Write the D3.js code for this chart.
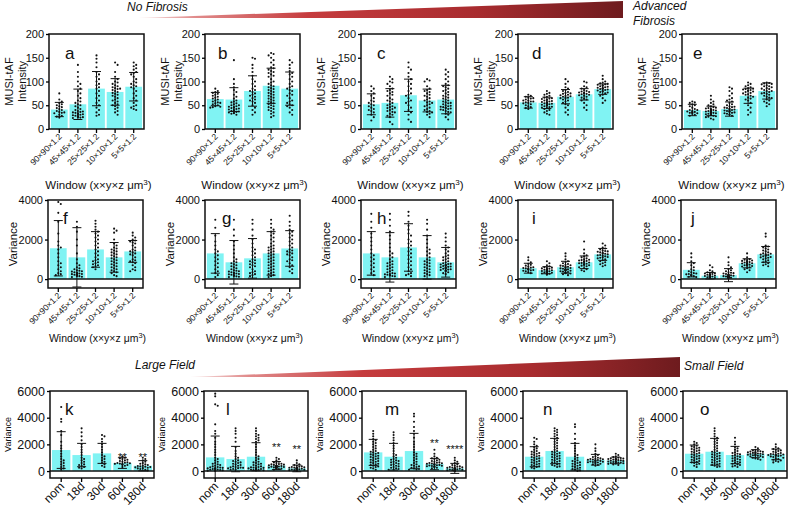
<!DOCTYPE html>
<html>
<head>
<meta charset="utf-8">
<script src="https://cdn.jsdelivr.net/npm/d3@7"></script>
<style>
  body { margin: 0; background: #fff; }
  svg text { font-family: Arial, "Liberation Sans", sans-serif; fill: #111; }
</style>
</head>
<body>
<svg id="fig" width="793" height="511"></svg>
<script>
// category labels
const windowLabels = ["90×90×1.2", "45×45×1.2", "25×25×1.2", "10×10×1.2", "5×5×1.2"];
const timeLabels = ["nom", "18d", "30d", "60d", "180d"];

// ---- row 1: MUSI-tAF intensity (a-e) ----
const meanA = [41, 52, 85, 78, 89];
const sdA = [15, 32, 36, 28, 30];
const ptsA = [
  [75, 62, 58, 55, 52, 50, 48, 46, 44, 42, 40, 38, 36, 35, 34, 33, 30, 28, 26, 24],
  [135, 120, 110, 100, 95, 90, 85, 80, 75, 70, 65, 60, 58, 55, 52, 50, 48, 45, 42, 40, 38, 37, 36, 35, 34, 33, 32, 31, 30, 30, 29, 28, 27, 26, 25, 25, 24, 23],
  [155, 148, 140, 130, 120, 115, 110, 105, 100, 95, 92, 88, 85, 80, 75, 70, 65, 60, 55, 50, 45, 40, 35, 30, 28],
  [140, 135, 120, 110, 105, 100, 98, 95, 92, 90, 88, 86, 85, 84, 82, 80, 78, 76, 74, 72, 70, 68, 65, 62, 60, 58, 55, 52, 50, 48, 45, 42, 38, 35, 30],
  [140, 135, 132, 128, 125, 120, 118, 115, 110, 105, 100, 98, 95, 92, 90, 88, 85, 80, 75, 70, 65, 60, 55, 50, 48, 45, 42, 40]
];
const meanB = [63, 62, 80, 91, 85];
const sdB = [14, 25, 32, 37, 35];
const ptsB = [
  [85, 80, 78, 76, 74, 72, 70, 68, 66, 64, 62, 60, 58, 56, 55, 54, 52, 50, 48, 47, 46, 45],
  [145, 105, 95, 88, 82, 78, 72, 68, 64, 60, 58, 56, 54, 52, 50, 50, 48, 47, 46, 45, 44, 43, 42, 41, 40, 39, 38, 37, 36, 35, 34, 33, 32, 30],
  [150, 148, 135, 128, 120, 112, 105, 100, 95, 90, 85, 82, 80, 78, 75, 72, 70, 68, 65, 62, 60, 58, 55, 50, 45, 40, 35, 30],
  [160, 158, 155, 150, 145, 140, 135, 130, 128, 125, 122, 120, 118, 115, 112, 110, 105, 100, 98, 95, 92, 90, 88, 86, 84, 82, 80, 78, 76, 74, 72, 70, 68, 66, 64, 62, 60, 58, 56, 54, 52, 50, 48, 46, 44, 42, 40, 38, 35, 32, 28, 25],
  [145, 140, 135, 128, 122, 118, 115, 110, 105, 100, 95, 90, 88, 85, 82, 80, 75, 72, 70, 65, 60, 58, 55, 52, 50, 48, 45, 40, 35, 30]
];
const meanC = [52, 55, 71, 60, 62];
const sdC = [22, 30, 34, 24, 30];
const ptsC = [
  [90, 85, 80, 75, 70, 65, 60, 58, 55, 52, 50, 48, 45, 42, 40, 38, 35, 30, 25, 18],
  [110, 105, 100, 98, 95, 90, 85, 82, 80, 78, 75, 72, 70, 65, 62, 60, 58, 55, 52, 50, 48, 46, 45, 44, 42, 40, 38, 36, 35, 32, 30, 28, 25, 15, 10],
  [140, 130, 125, 118, 110, 105, 100, 95, 90, 85, 80, 75, 72, 70, 65, 60, 58, 55, 50, 45, 40, 35, 30, 20, 15],
  [105, 102, 100, 90, 85, 82, 80, 78, 75, 72, 70, 68, 65, 62, 60, 58, 56, 55, 52, 50, 48, 45, 42, 40, 38, 36, 35, 32, 30, 25],
  [125, 120, 115, 110, 105, 100, 95, 92, 90, 88, 85, 82, 80, 78, 75, 72, 70, 68, 66, 64, 62, 60, 58, 56, 55, 54, 52, 50, 49, 48, 47, 46, 45, 44, 43, 42, 41, 40, 38, 36, 35, 32, 30, 25, 20]
];
const meanD = [56, 55, 68, 73, 84];
const sdD = [12, 12, 15, 12, 11];
const ptsD = [
  [72, 70, 68, 66, 65, 64, 62, 60, 60, 58, 58, 56, 55, 54, 52, 50, 48, 46, 44, 42],
  [80, 76, 74, 72, 70, 68, 66, 65, 64, 63, 62, 61, 60, 59, 58, 57, 56, 56, 55, 55, 54, 54, 53, 52, 52, 51, 50, 50, 49, 48, 47, 46, 45, 44, 42, 40, 38, 35, 32, 30],
  [105, 100, 95, 88, 85, 82, 80, 78, 76, 75, 74, 72, 71, 70, 69, 68, 67, 66, 65, 64, 62, 60, 58, 55, 52, 50, 45, 40, 35, 30],
  [100, 98, 90, 88, 85, 82, 80, 79, 78, 77, 76, 75, 74, 73, 72, 71, 70, 68, 66, 64, 62, 60, 55, 50, 45, 40],
  [112, 105, 100, 98, 96, 95, 94, 93, 92, 91, 90, 89, 88, 87, 86, 85, 85, 84, 83, 82, 81, 80, 79, 78, 77, 75, 72, 70, 65, 60, 55]
];
const meanE = [40, 38, 42, 70, 80];
const sdE = [12, 10, 15, 16, 17];
const ptsE = [
  [58, 56, 55, 52, 50, 48, 45, 42, 40, 40, 38, 37, 36, 35, 35, 34, 33, 32, 30, 28],
  [70, 62, 58, 55, 52, 50, 48, 46, 45, 44, 43, 42, 41, 40, 40, 39, 39, 38, 38, 37, 37, 36, 36, 35, 35, 34, 34, 33, 32, 32, 31, 30, 30, 29, 28, 27, 26, 25, 22, 20],
  [88, 85, 80, 75, 70, 65, 62, 60, 58, 55, 52, 50, 48, 47, 46, 45, 44, 43, 42, 41, 40, 40, 39, 38, 38, 37, 36, 35, 34, 33, 32, 31, 30, 28],
  [98, 95, 92, 90, 88, 86, 85, 84, 83, 82, 81, 80, 79, 78, 76, 75, 73, 72, 70, 68, 66, 64, 62, 60, 55, 50, 45, 40, 35, 30],
  [98, 97, 96, 95, 94, 92, 90, 90, 88, 86, 85, 84, 82, 80, 80, 78, 76, 75, 74, 72, 70, 68, 66, 65, 62, 60, 58, 55, 52, 48]
];

// ---- row 2: variance (f-j) ----
const meanF = [1560, 1100, 1500, 1100, 1400];
const sdF = [1400, 1500, 900, 750, 550];
const ptsF = [
  [3900, 3800, 3350, 2900, 2300, 1900, 1700, 1600, 1500, 1300, 1100, 900, 800, 700, 600, 500, 400, 300, 250, 200],
  [2900, 2650, 2400, 2000, 1700, 1300, 1000, 800, 700, 600, 550, 500, 450, 420, 400, 380, 350, 330, 310, 300, 280, 260, 250, 240, 230, 220, 210, 200, 190, 180, 170, 160, 150, 120, 100],
  [2950, 2800, 2650, 2500, 2400, 2300, 2200, 2100, 2000, 1900, 1800, 1700, 1600, 1500, 1400, 1300, 1200, 1100, 1000, 950, 900, 850, 800, 750, 700, 650, 600, 500],
  [2550, 2450, 2350, 2000, 1800, 1700, 1600, 1550, 1500, 1450, 1400, 1350, 1300, 1250, 1200, 1150, 1100, 1050, 1000, 950, 900, 850, 800, 750, 700, 650, 600, 550, 500, 450, 400, 350, 300, 200, 150],
  [2350, 2200, 2100, 2000, 1950, 1900, 1850, 1800, 1700, 1600, 1500, 1450, 1400, 1350, 1300, 1250, 1200, 1100, 1000, 950, 900, 850, 800, 700, 600, 500, 450, 400]
];
const meanG = [1300, 850, 1050, 1300, 1550];
const sdG = [1000, 1100, 1000, 1100, 900];
const ptsG = [
  [3000, 2600, 2200, 1900, 1700, 1500, 1400, 1300, 1200, 1100, 1000, 900, 800, 700, 600, 500, 400, 300, 200, 100],
  [3000, 2500, 2200, 1900, 1700, 1500, 1300, 1100, 1000, 900, 850, 800, 750, 700, 650, 600, 550, 500, 450, 420, 400, 380, 350, 320, 300, 280, 260, 240, 220, 200, 180, 160, 140, 120, 100],
  [3000, 2800, 2500, 2200, 2000, 1800, 1600, 1500, 1400, 1300, 1200, 1100, 1000, 950, 900, 850, 800, 750, 700, 650, 600, 500, 400, 350, 300, 250, 200, 150],
  [3000, 2800, 2600, 2500, 2400, 2300, 2200, 2100, 2000, 1900, 1800, 1700, 1650, 1600, 1550, 1500, 1450, 1400, 1350, 1300, 1250, 1200, 1150, 1100, 1050, 1000, 950, 900, 850, 800, 750, 700, 650, 600, 550, 500, 450, 400, 350, 300, 250, 200, 150, 100],
  [3200, 2900, 2700, 2500, 2400, 2300, 2200, 2100, 2000, 1900, 1800, 1700, 1600, 1500, 1450, 1400, 1350, 1300, 1250, 1200, 1100, 1000, 950, 900, 800, 700, 600, 500, 400, 300]
];
const meanH = [1300, 1100, 1600, 1100, 850];
const sdH = [1100, 1250, 1200, 1100, 750];
const ptsH = [
  [3300, 2900, 2600, 2300, 2100, 1900, 1700, 1500, 1300, 1200, 1100, 1000, 900, 800, 700, 600, 500, 400, 300, 200],
  [3300, 3000, 2700, 2400, 2200, 2000, 1800, 1600, 1400, 1300, 1200, 1100, 1000, 900, 850, 800, 750, 700, 650, 600, 550, 500, 450, 400, 350, 300, 280, 260, 240, 220, 200, 180, 160, 140, 100],
  [3400, 3200, 2900, 2700, 2500, 2300, 2200, 2000, 1900, 1800, 1700, 1600, 1500, 1400, 1300, 1200, 1100, 1000, 900, 800, 700, 600, 500, 400, 300, 250, 200, 150],
  [3000, 2800, 2500, 2200, 2000, 1800, 1600, 1500, 1400, 1300, 1200, 1100, 1000, 950, 900, 850, 800, 750, 700, 650, 600, 550, 500, 450, 400, 350, 300, 250, 200, 150],
  [2300, 2100, 1900, 1700, 1600, 1500, 1400, 1300, 1200, 1150, 1100, 1050, 1000, 950, 900, 850, 800, 780, 760, 740, 720, 700, 680, 660, 640, 620, 600, 580, 560, 540, 520, 500, 480, 460, 440, 420, 400, 350, 300, 250]
];
const meanI = [550, 450, 600, 850, 1250];
const sdI = [250, 180, 300, 320, 300];
const ptsI = [
  [1100, 950, 850, 780, 720, 680, 640, 600, 580, 560, 540, 520, 500, 480, 460, 440, 420, 400, 350, 300],
  [900, 800, 700, 650, 600, 580, 560, 540, 520, 500, 490, 480, 470, 460, 450, 440, 430, 420, 410, 400, 395, 390, 385, 380, 375, 370, 365, 360, 350, 340, 330, 320, 310, 300, 290, 280, 270, 260, 250, 220],
  [1300, 1150, 1000, 900, 850, 800, 760, 720, 700, 680, 660, 640, 620, 600, 580, 560, 540, 520, 500, 490, 480, 470, 460, 450, 440, 420, 400, 380, 360, 340, 320, 300, 280, 250, 200],
  [1900, 1500, 1300, 1200, 1150, 1100, 1050, 1000, 980, 960, 940, 920, 900, 880, 860, 840, 820, 800, 780, 760, 740, 720, 700, 680, 650, 600, 550, 500, 450, 400],
  [1800, 1700, 1600, 1550, 1500, 1450, 1420, 1400, 1380, 1350, 1320, 1300, 1280, 1250, 1220, 1200, 1180, 1150, 1120, 1100, 1080, 1050, 1000, 950, 900, 850, 800, 750, 700, 650]
];
const meanJ = [470, 170, 200, 800, 1250];
const sdJ = [360, 160, 330, 230, 400];
const ptsJ = [
  [1300, 1100, 900, 800, 700, 600, 500, 450, 400, 350, 300, 280, 260, 240, 220, 200, 180, 150, 120, 100],
  [700, 600, 450, 400, 350, 320, 300, 280, 260, 240, 230, 220, 210, 200, 190, 185, 180, 175, 170, 165, 160, 155, 150, 145, 140, 135, 130, 125, 120, 115, 110, 105, 100, 95, 90, 85, 80, 70, 60, 50],
  [1100, 850, 700, 600, 500, 450, 400, 350, 320, 300, 280, 260, 240, 220, 210, 200, 190, 180, 170, 160, 150, 140, 130, 120, 110, 100, 95, 90, 85, 80, 75, 70, 65, 60, 50],
  [1300, 1100, 1000, 980, 960, 940, 920, 900, 880, 860, 840, 820, 800, 790, 780, 770, 760, 750, 740, 730, 720, 700, 680, 660, 640, 600, 550, 500, 450, 350],
  [2300, 2150, 1700, 1650, 1600, 1550, 1500, 1450, 1400, 1350, 1300, 1280, 1260, 1240, 1220, 1200, 1180, 1150, 1120, 1100, 1080, 1050, 1000, 950, 900, 850, 800, 750, 700, 650]
];

// ---- row 3: variance over time (k-o) ----
const meanK = [1575, 1200, 1325, 600, 400];
const sdK = [1375, 875, 750, 400, 380];
const ptsK = [
  [4800, 3900, 3700, 3000, 2700, 2200, 1900, 1700, 1500, 1300, 1100, 900, 800, 700, 600, 500, 400, 300, 200, 100],
  [3200, 2900, 2600, 2300, 2000, 1800, 1600, 1400, 1200, 1000, 900, 800, 700, 600, 500, 450, 400, 300, 250, 200],
  [2700, 2600, 2400, 2200, 2000, 1800, 1600, 1400, 1200, 1100, 1000, 900, 800, 700, 600, 500, 400, 300],
  [1100, 1000, 950, 900, 850, 800, 750, 700, 650, 620, 600, 580, 560, 540, 520, 500, 480, 450, 400, 300],
  [1000, 900, 800, 700, 600, 550, 500, 450, 400, 380, 350, 320, 300, 280, 250, 220, 200, 150, 100, 50]
];
const sigK = ["", "", "", "**", "**"];
const sigAtK = [0, 0, 0, 1200, 1200];
const meanL = [1025, 900, 1075, 410, 200];
const sdL = [1600, 950, 1050, 300, 250];
const ptsL = [
  [5800, 5600, 5000, 4900, 3500, 3000, 2800, 2500, 2200, 2000, 1800, 1600, 1400, 1200, 1000, 900, 800, 700, 600, 550, 500, 450, 400, 350, 300, 280, 260, 240, 220, 200, 180, 160, 140, 120, 100, 80, 60, 40, 20, 0],
  [3200, 3000, 2800, 2500, 2200, 1800, 1500, 1300, 1100, 1000, 900, 800, 750, 700, 650, 600, 550, 500, 450, 400, 350, 300, 280, 260, 240, 220, 200, 150, 120, 100],
  [3200, 3000, 2800, 2700, 2600, 2500, 2400, 2300, 2200, 2000, 1800, 1600, 1400, 1200, 1100, 1000, 900, 800, 700, 650, 600, 550, 500, 450, 400, 350, 300, 280, 260, 240, 220, 200, 180, 160, 140, 120, 100, 80, 60, 50],
  [1000, 900, 800, 700, 650, 600, 550, 520, 500, 480, 460, 440, 420, 400, 390, 380, 370, 360, 350, 340, 330, 320, 310, 300, 290, 280, 270, 260, 250, 240, 220, 200, 180, 150, 100],
  [800, 600, 500, 450, 400, 350, 320, 300, 280, 260, 250, 240, 230, 220, 210, 200, 190, 180, 170, 160, 150, 140, 130, 120, 110, 100, 90, 80, 70, 60, 50, 40, 30, 20, 10]
];
const sigL = ["", "", "", "**", "**"];
const sigAtL = [0, 0, 0, 1950, 1800];
const meanM = [1400, 1075, 1500, 525, 200];
const sdM = [975, 1000, 1325, 425, 375];
const ptsM = [
  [3000, 2800, 2600, 2400, 2300, 2200, 2100, 2000, 1900, 1800, 1700, 1600, 1500, 1450, 1400, 1350, 1300, 1250, 1200, 1150, 1100, 1050, 1000, 950, 900, 850, 800, 750, 700, 650, 600, 550, 500, 450, 400, 350, 300, 250, 200, 100],
  [2900, 2700, 2500, 2300, 2100, 1900, 1700, 1500, 1300, 1200, 1100, 1000, 900, 850, 800, 750, 700, 650, 600, 550, 500, 450, 400, 350, 300, 250, 200, 150, 120, 100],
  [4300, 4100, 3700, 3300, 3000, 2800, 2500, 2200, 2000, 1800, 1600, 1400, 1300, 1200, 1100, 1000, 900, 800, 700, 600, 500, 450, 400, 350, 300, 250, 200, 150, 120, 100],
  [1600, 1300, 1100, 1000, 950, 900, 850, 800, 750, 700, 650, 620, 600, 580, 560, 540, 520, 500, 480, 460, 440, 420, 400, 380, 360, 340, 320, 300, 250, 200],
  [1000, 800, 700, 600, 500, 450, 400, 350, 320, 300, 280, 260, 240, 220, 200, 190, 180, 170, 160, 150, 140, 130, 120, 110, 100, 90, 80, 70, 60, 50, 45, 40, 35, 30, 25, 20, 15, 10, 5, 0]
];
const sigM = ["", "", "", "**", "****"];
const sigAtM = [0, 0, 0, 2250, 1800];
const meanN = [1075, 1500, 1075, 850, 800];
const sdN = [750, 950, 1000, 400, 250];
const ptsN = [
  [2500, 2400, 2200, 2000, 1900, 1800, 1700, 1600, 1500, 1450, 1400, 1350, 1300, 1250, 1200, 1150, 1100, 1050, 1000, 950, 900, 850, 800, 750, 700, 650, 600, 550, 500, 450, 400, 350, 300, 250, 200],
  [3200, 3100, 3000, 2900, 2800, 2700, 2600, 2500, 2400, 2300, 2200, 2100, 2000, 1900, 1800, 1700, 1600, 1500, 1450, 1400, 1350, 1300, 1250, 1200, 1150, 1100, 1050, 1000, 950, 900, 850, 800, 750, 700, 650, 600, 550, 500, 450, 400, 350, 300],
  [3500, 3300, 2800, 2400, 2100, 1900, 1700, 1500, 1300, 1200, 1100, 1000, 900, 800, 750, 700, 650, 600, 550, 500, 450, 400, 350, 300, 250, 200, 150, 100, 50, 0],
  [2000, 1700, 1500, 1300, 1200, 1100, 1050, 1000, 950, 920, 900, 880, 860, 840, 820, 800, 780, 760, 740, 720, 700, 680, 660, 640, 620, 600, 550, 500, 450, 400],
  [1300, 1200, 1100, 1050, 1000, 980, 960, 940, 920, 900, 880, 860, 840, 820, 800, 780, 760, 740, 720, 700, 680, 660, 640, 620, 600, 580, 560, 540, 500, 450]
];
const meanO = [1300, 1450, 1200, 1300, 1250];
const sdO = [650, 1000, 650, 300, 400];
const ptsO = [
  [2200, 2100, 2000, 1900, 1850, 1800, 1750, 1700, 1650, 1600, 1550, 1500, 1450, 1400, 1350, 1300, 1250, 1200, 1150, 1100, 1050, 1000, 950, 900, 850, 800, 750, 700, 650, 600, 550, 500, 400, 300],
  [3200, 3000, 2800, 2600, 2500, 2400, 2300, 2200, 2100, 2000, 1900, 1800, 1700, 1600, 1500, 1450, 1400, 1350, 1300, 1250, 1200, 1150, 1100, 1050, 1000, 950, 900, 850, 800, 750, 700, 650, 600, 550, 500, 450, 400, 350, 300],
  [2500, 2200, 2000, 1800, 1700, 1600, 1500, 1400, 1350, 1300, 1250, 1200, 1150, 1100, 1050, 1000, 950, 900, 850, 800, 750, 700, 650, 600, 550, 500, 450, 400, 350, 300],
  [1800, 1700, 1600, 1550, 1500, 1480, 1460, 1440, 1420, 1400, 1380, 1360, 1340, 1320, 1300, 1280, 1260, 1240, 1220, 1200, 1180, 1160, 1140, 1120, 1100, 1050, 1000, 950, 900, 850],
  [2000, 1800, 1700, 1650, 1600, 1550, 1500, 1450, 1400, 1350, 1300, 1280, 1260, 1240, 1220, 1200, 1180, 1160, 1140, 1120, 1100, 1050, 1000, 950, 900, 850, 800, 750, 700, 650]
];

const barColor = "#80f3f3";

// layout for each row of panels
const rowSpecs = [
  { lefts: [49, 205, 361, 518, 682], width: 95, top: 34, bottom: 129, domain: [0, 200], ticks: [0, 50, 100, 150, 200],
    cats: windowLabels, catFont: 8.5, tickFont: 11, ylabel: ["MUSI-tAF", "Intensity"], yFont: 11, yOff: -40,
    letterDx: [16, 13, 16, 14, 11], letterY: 59, zeroLine: false, windowY: 189, windowFont: 11.5 },
  { lefts: [48, 205, 361, 518, 681], width: 95, top: 200, bottom: 288, domain: [-450, 4000], ticks: [0, 2000, 4000],
    cats: windowLabels, catFont: 8.5, tickFont: 11, ylabel: ["Variance"], yFont: 11.5, yOff: -35,
    letterDx: [15, 17, 16, 14, 10], letterY: 224, zeroLine: true, windowY: 342, windowFont: 10.5 },
  { lefts: [50, 204, 362, 523, 683], width: 104, top: 391, bottom: 478, domain: [-520, 6000], ticks: [0, 2000, 4000, 6000],
    cats: timeLabels, catFont: 12, tickFont: 12.5, ylabel: ["Variance"], yFont: 9, yOff: -42,
    letterDx: [15, 22, 23, 20, 17], letterY: 415, zeroLine: true, windowY: null }
];

const panels = [
  { id: "a", row: 0, col: 0, mean: meanA, sd: sdA, pts: ptsA },
  { id: "b", row: 0, col: 1, mean: meanB, sd: sdB, pts: ptsB },
  { id: "c", row: 0, col: 2, mean: meanC, sd: sdC, pts: ptsC },
  { id: "d", row: 0, col: 3, mean: meanD, sd: sdD, pts: ptsD },
  { id: "e", row: 0, col: 4, mean: meanE, sd: sdE, pts: ptsE },
  { id: "f", row: 1, col: 0, mean: meanF, sd: sdF, pts: ptsF },
  { id: "g", row: 1, col: 1, mean: meanG, sd: sdG, pts: ptsG },
  { id: "h", row: 1, col: 2, mean: meanH, sd: sdH, pts: ptsH },
  { id: "i", row: 1, col: 3, mean: meanI, sd: sdI, pts: ptsI },
  { id: "j", row: 1, col: 4, mean: meanJ, sd: sdJ, pts: ptsJ },
  { id: "k", row: 2, col: 0, mean: meanK, sd: sdK, pts: ptsK, sig: sigK, sigAt: sigAtK },
  { id: "l", row: 2, col: 1, mean: meanL, sd: sdL, pts: ptsL, sig: sigL, sigAt: sigAtL },
  { id: "m", row: 2, col: 2, mean: meanM, sd: sdM, pts: ptsM, sig: sigM, sigAt: sigAtM },
  { id: "n", row: 2, col: 3, mean: meanN, sd: sdN, pts: ptsN },
  { id: "o", row: 2, col: 4, mean: meanO, sd: sdO, pts: ptsO }
];

const svg = d3.select("#fig");
svg.append("rect").attr("width", 793).attr("height", 511).attr("fill", "#fff");

// gradient wedges (banners)
const defs = svg.append("defs");
function addGrad(id, x1, x2) {
  const gr = defs.append("linearGradient").attr("id", id)
    .attr("gradientUnits", "userSpaceOnUse").attr("x1", x1).attr("x2", x2).attr("y1", 0).attr("y2", 0);
  [[0, "#f7e4e4"], [0.12, "#e08a8a"], [0.35, "#c63c3e"], [0.7, "#a82c2f"], [1, "#6e1b1e"]]
    .forEach(s => gr.append("stop").attr("offset", s[0]).attr("stop-color", s[1]));
}
addGrad("gradTop", 138, 623);
addGrad("gradBot", 190, 680);
svg.append("polygon").attr("points", "138,18 623,1 623,18").attr("fill", "url(#gradTop)");
svg.append("polygon").attr("points", "190,377 680,357 680,377").attr("fill", "url(#gradBot)");

function bannerText(x, y, t) {
  svg.append("text").attr("x", x).attr("y", y).attr("font-size", 12).attr("font-style", "italic").text(t);
}
bannerText(127, 11, "No Fibrosis");
bannerText(633, 10, "Advanced");
bannerText(633, 25, "Fibrosis");
bannerText(135, 369, "Large Field");
bannerText(684, 370, "Small Field");

// spread points sideways like a scatter dot plot, keeping y exact
function swarm(vals, y, cx, halfW) {
  const placed = [];
  const sorted = vals.slice().sort((a, b) => b - a);
  const step = 2.5;
  return sorted.map(v => {
    const py = y(v);
    let px = cx;
    for (let s = 0; s < 14; s++) {
      const k = s === 0 ? 0 : (s % 2 ? (s + 1) / 2 : -s / 2);
      const tx = cx + k * step;
      if (Math.abs(k * step) > halfW) continue;
      if (placed.every(p => Math.hypot(p[0] - tx, p[1] - py) >= 2.4)) { px = tx; break; }
    }
    placed.push([px, py]);
    return [px, py];
  });
}

function drawPanel(p) {
  const spec = rowSpecs[p.row];
  const left = spec.lefts[p.col];
  const right = left + spec.width;
  const y = d3.scaleLinear().domain(spec.domain).range([spec.bottom, spec.top]);
  const x = d3.scaleBand().domain(spec.cats).range([left + 1, right - 1]).paddingInner(0.1).paddingOuter(0.05);
  const g = svg.append("g").attr("class", "panel-" + p.id);
  const bw = x.bandwidth();

  // bars
  g.selectAll("rect.bar").data(p.mean).join("rect").attr("class", "bar")
    .attr("x", (d, i) => x(spec.cats[i]))
    .attr("width", bw)
    .attr("y", d => y(d))
    .attr("height", d => y(0) - y(d))
    .attr("fill", barColor);

  // points
  p.pts.forEach((vals, i) => {
    const cx = x(spec.cats[i]) + bw / 2;
    const pos = swarm(vals, y, cx, bw / 2 - 1);
    g.append("g").selectAll("circle").data(pos).join("circle")
      .attr("cx", d => d[0]).attr("cy", d => d[1]).attr("r", 1.05).attr("fill", "#111");
  });

  // error bars (mean +/- sd)
  p.mean.forEach((m, i) => {
    const cx = x(spec.cats[i]) + bw / 2;
    const lo = Math.max(m - p.sd[i], spec.domain[0]);
    const hi = m + p.sd[i];
    const eb = g.append("g").attr("stroke", "#111").attr("stroke-width", 1);
    eb.append("line").attr("x1", cx).attr("x2", cx).attr("y1", y(lo)).attr("y2", y(hi));
    eb.append("line").attr("x1", cx - 4.5).attr("x2", cx + 4.5).attr("y1", y(hi)).attr("y2", y(hi));
    if (m - p.sd[i] > spec.domain[0])
      eb.append("line").attr("x1", cx - 4.5).attr("x2", cx + 4.5).attr("y1", y(lo)).attr("y2", y(lo));
  });

  // significance marks
  if (p.sig) {
    p.sig.forEach((s, i) => {
      if (!s) return;
      g.append("text").attr("x", x(spec.cats[i]) + bw / 2).attr("y", y(p.sigAt[i]) + 6)
        .attr("text-anchor", "middle").attr("font-size", 11).text(s);
    });
  }

  if (spec.zeroLine) {
    g.append("line").attr("x1", left).attr("x2", right).attr("y1", y(0)).attr("y2", y(0))
      .attr("stroke", "#111").attr("stroke-width", 1.5);
  }

  // frame
  g.append("rect").attr("x", left).attr("y", spec.top).attr("width", spec.width).attr("height", spec.bottom - spec.top)
    .attr("fill", "none").attr("stroke", "#111").attr("stroke-width", 1.5);

  // y axis
  const ya = g.append("g").attr("transform", `translate(${left},0)`)
    .call(d3.axisLeft(y).tickValues(spec.ticks).tickSize(3).tickPadding(2).tickFormat(d3.format("d")));
  ya.select(".domain").remove();
  ya.selectAll("line").attr("stroke-width", 1.3);
  ya.selectAll("text").attr("font-size", spec.tickFont).attr("font-family", null).attr("fill", "#111");

  // x axis ticks + rotated labels
  const xa = g.append("g").attr("transform", `translate(0,${spec.bottom})`)
    .call(d3.axisBottom(x).tickSize(4).tickSizeOuter(0).tickFormat(""));
  xa.select(".domain").remove();
  xa.selectAll("line").attr("stroke-width", 1.3);
  spec.cats.forEach(c => {
    const cx = x(c) + bw / 2;
    g.append("text").attr("transform", `translate(${cx + 1},${spec.bottom + 6}) rotate(-45)`)
      .attr("text-anchor", "end").attr("dy", "0.35em").attr("font-size", spec.catFont).text(c);
  });

  // y label
  const ly = (spec.top + spec.bottom) / 2;
  spec.ylabel.forEach((t, k) => {
    g.append("text").attr("transform", `translate(${left + spec.yOff + k * 13},${ly}) rotate(-90)`)
      .attr("text-anchor", "middle").attr("dy", "0.35em").attr("font-size", spec.yFont).text(t);
  });

  // window label under rows 1 and 2
  if (spec.windowY) {
    const wt = g.append("text").attr("x", (left + right) / 2 + 2).attr("y", spec.windowY)
      .attr("text-anchor", "middle").attr("font-size", spec.windowFont);
    wt.append("tspan").text("Window (x×y×z μm");
    wt.append("tspan").attr("baseline-shift", "super").attr("font-size", spec.windowFont * 0.7).text("3");
    wt.append("tspan").text(")");
  }

  // panel letter
  g.append("text").attr("x", left + spec.letterDx[p.col]).attr("y", spec.letterY)
    .attr("font-size", 17).text(p.id);
}

panels.forEach(drawPanel);
</script>
</body>
</html>
